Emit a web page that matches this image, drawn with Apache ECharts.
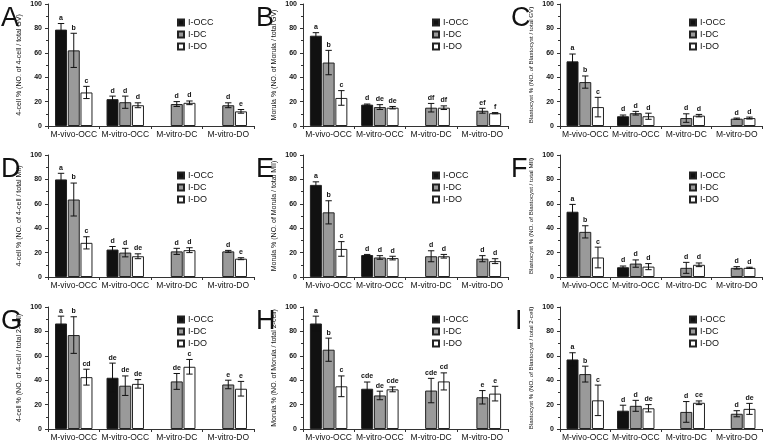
<!DOCTYPE html>
<html>
<head>
<meta charset="utf-8">
<script src="https://cdn.jsdelivr.net/npm/echarts@6/dist/echarts.min.js"></script>
<style>html,body{margin:0;padding:0;background:#fff;}#c{width:766px;height:443px;}</style>
</head>
<body>
<div id="c"></div>
<script>
const categories = ['M-vivo-OCC', 'M-vitro-OCC', 'M-vitro-DC', 'M-vitro-DO'];
const groups = ['I-OCC', 'I-DC', 'I-DO'];
const yTicks = [0, 20, 40, 60, 80, 100];
const panelLetters = ['A', 'B', 'C', 'D', 'E', 'F', 'G', 'H', 'I'];
const yTitles = [
  '4-cell % (NO. of 4-cell / total GV)',
  'Morula % (NO. of Morula / total GV)',
  'Blastocyst % (NO. of Blastocyst / total GV)',
  '4-cell % (NO. of 4-cell / total MII)',
  'Morula % (NO. of Morula / total MII)',
  'Blastocyst % (NO. of Blastocyst / total MII)',
  '4-cell % (NO. of 4-cell / total 2-cell)',
  'Morula % (NO. of Morula / total 2-cell)',
  'Blastocyst % (NO. of Blastocyst / total 2-cell)'
];

// rows: I-OCC, I-DC, I-DO ; columns: categories
const A_mean = [[79, 22, null, null], [62, 19.5, 18, 17], [27.5, 17, 19, 12]];
const A_err  = [[5, 2.5, null, null], [14, 5, 2, 2], [5, 2, 1.5, 1.5]];
const A_sig  = [['a', 'd', '', ''], ['b', 'd', 'd', 'd'], ['c', 'd', 'd', 'e']];

const B_mean = [[74, 17.5, null, null], [52, 15.5, 15, 12.5], [23, 15, 15, 10.5]];
const B_err  = [[2.5, 0.5, null, null], [10, 2, 3.5, 2], [6, 1, 1.5, 0.5]];
const B_sig  = [['a', 'd', '', ''], ['b', 'de', 'df', 'ef'], ['c', 'de', 'df', 'f']];

const C_mean = [[53, 8, null, null], [36, 10.5, 6.5, 6], [15.5, 8, 8.5, 6.5]];
const C_err  = [[6, 1, null, null], [5, 1.5, 3.5, 0.5], [8, 2.5, 1, 0.8]];
const C_sig  = [['a', 'd', '', ''], ['b', 'd', 'd', 'd'], ['c', 'd', 'd', 'd']];

const D_mean = [[80, 22.5, null, null], [63.5, 20, 21, 21], [28, 17, 22, 15]];
const D_err  = [[5, 2.5, null, null], [13.5, 3.5, 2.5, 0.8], [5, 2, 2, 0.8]];
const D_sig  = [['a', 'd', '', ''], ['b', 'd', 'd', 'd'], ['c', 'de', 'd', 'e']];

const E_mean = [[75.5, 18, null, null], [53, 16, 17, 15], [23, 15.5, 17, 13]];
const E_err  = [[2.5, 0.5, null, null], [9.5, 1.5, 4.5, 2.5], [6, 1.5, 1.5, 2]];
const E_sig  = [['a', 'd', '', ''], ['b', 'd', 'd', 'd'], ['c', 'd', 'd', 'd']];

const F_mean = [[53.5, 8, null, null], [37, 11, 7.5, 7.5], [16, 8.5, 10, 7.5]];
const F_err  = [[6, 1, null, null], [5, 3, 4.5, 1], [8.5, 2.5, 1.5, 0.5]];
const F_sig  = [['a', 'd', '', ''], ['b', 'd', 'd', 'd'], ['c', 'd', 'd', 'd']];

const G_mean = [[86.5, 42, null, null], [77, 35.5, 39, 36.5], [42.5, 37, 51, 33]];
const G_err  = [[6, 12, null, null], [15, 8, 6.5, 3.5], [6.5, 3.5, 6, 6]];
const G_sig  = [['a', 'de', '', ''], ['b', 'de', 'de', 'e'], ['cd', 'de', 'c', 'e']];

const H_mean = [[86.5, 33, null, null], [65, 27.5, 31.5, 26], [35, 32.5, 39, 29]];
const H_err  = [[6, 5.5, null, null], [9.5, 3.5, 10, 5.5], [8.5, 2, 7, 6]];
const H_sig  = [['a', 'cde', '', ''], ['b', 'de', 'cde', 'e'], ['c', 'cde', 'cd', 'e']];

const I_mean = [[57, 15, null, null], [45, 19, 14, 12.5], [23.5, 17, 21.5, 16.5]];
const I_err  = [[5.5, 4.5, null, null], [6.5, 4.5, 8.5, 2.5], [12.5, 3, 1.5, 4.5]];
const I_sig  = [['a', 'd', '', ''], ['b', 'd', 'd', 'd'], ['c', 'de', 'ce', 'de']];

const panels = [
  [A_mean, A_err, A_sig], [B_mean, B_err, B_sig], [C_mean, C_err, C_sig],
  [D_mean, D_err, D_sig], [E_mean, E_err, E_sig], [F_mean, F_err, F_sig],
  [G_mean, G_err, G_sig], [H_mean, H_err, H_sig], [I_mean, I_err, I_sig]
];

// layout
const colLeft = [48, 303, 560];
const colWidth = [206, 205, 202];
const rowTop = [4, 155, 307];
const legendTop = [13, 166, 310];
const rowHeight = 122;
const barColors = ['#111111', '#9a9a9a', '#ffffff'];
const BAR_W = 12;
const BAR_GAP = 0.06;
const FONT = 'Liberation Sans, Arial, sans-serif';

const grid = [], xAxis = [], yAxis = [], series = [], legend = [], graphic = [];

panels.forEach(function (p, k) {
  const r = Math.floor(k / 3), c = k % 3;
  const mean = p[0], err = p[1], sig = p[2];
  grid.push({ left: colLeft[c], top: rowTop[r], width: colWidth[c], height: rowHeight, containLabel: false });
  xAxis.push({
    type: 'category', gridIndex: k, data: categories,
    axisLine: { lineStyle: { color: '#333', width: 1 } },
    axisTick: { show: true, length: 3, lineStyle: { color: '#333' } },
    axisLabel: { color: '#111', fontSize: 8.5, fontFamily: FONT, margin: 4, interval: 0 }
  });
  yAxis.push({
    type: 'value', gridIndex: k, min: 0, max: 100, interval: 20,
    name: yTitles[k], nameLocation: 'middle', nameGap: c === 2 ? 26 : 25,
    nameTextStyle: { fontSize: c === 2 ? 6.2 : 7, color: '#111', fontFamily: FONT },
    axisLine: { show: true, lineStyle: { color: '#333', width: 1 } },
    axisTick: { show: true, length: 3, lineStyle: { color: '#333' } },
    minorTick: { show: true, splitNumber: 2, length: 2, lineStyle: { color: '#333' } },
    splitLine: { show: false },
    axisLabel: { color: '#111', fontSize: 7, fontWeight: 'bold', fontFamily: FONT, margin: 6 }
  });
  groups.forEach(function (g, gi) {
    series.push({
      type: 'bar', name: g, xAxisIndex: k, yAxisIndex: k,
      data: mean[gi].map(function (v) { return v === null ? '-' : v; }),
      barWidth: BAR_W, barGap: (BAR_GAP * 100) + '%',
      itemStyle: { color: barColors[gi], borderColor: '#222', borderWidth: 1 },
      emphasis: { disabled: true }, animation: false
    });
  });
  const errData = [];
  const errSig = [];
  groups.forEach(function (g, gi) {
    categories.forEach(function (cat, ci) {
      if (mean[gi][ci] !== null) {
        errData.push([ci, mean[gi][ci], err[gi][ci], gi]);
        errSig.push(sig[gi][ci]);
      }
    });
  });
  series.push({
    type: 'custom', name: 'err' + k, xAxisIndex: k, yAxisIndex: k,
    data: errData, z: 10, animation: false, silent: true,
    encode: { x: 0, y: 1 },
    renderItem: function (params, api) {
      const ci = api.value(0), v = api.value(1), e = api.value(2), gi = api.value(3);
      const off = (gi - 1) * BAR_W * (1 + BAR_GAP);
      const base = api.coord([ci, v]);
      const x = base[0] + off;
      const yt = api.coord([ci, v + e])[1];
      const yb = api.coord([ci, v - e])[1];
      const cw = 3.2;
      const ls = { stroke: '#111', lineWidth: 1 };
      return {
        type: 'group',
        children: [
          { type: 'line', shape: { x1: x, y1: yt, x2: x, y2: yb }, style: ls },
          { type: 'line', shape: { x1: x - cw, y1: yt, x2: x + cw, y2: yt }, style: ls },
          { type: 'line', shape: { x1: x - cw, y1: yb, x2: x + cw, y2: yb }, style: ls },
          { type: 'text', x: x, y: yt - 2, style: { text: errSig[params.dataIndex], align: 'center', verticalAlign: 'bottom', font: 'bold 7px ' + FONT, fill: '#111' } }
        ]
      };
    }
  });
  legend.push({
    data: groups, orient: 'vertical',
    left: colLeft[c] + 124, top: legendTop[r],
    itemWidth: 6, itemHeight: 6, itemGap: 3,
    icon: 'rect',
    textStyle: { fontSize: 9, color: '#111', fontFamily: FONT, padding: [0, 0, 0, -1] },
    selectedMode: false
  });
  graphic.push({
    type: 'text', left: [0, 255, 510][c] + (k === 8 ? 5 : 1), top: rowTop[r] + 1,
    style: { text: panelLetters[k], font: '27px ' + FONT, fill: '#111' }
  });
});

const chart = echarts.init(document.getElementById('c'), null, { renderer: 'canvas' });
chart.setOption({
  backgroundColor: '#fff',
  animation: false,
  grid: grid, xAxis: xAxis, yAxis: yAxis, series: series, legend: legend, graphic: graphic
});
</script>
</body>
</html>
